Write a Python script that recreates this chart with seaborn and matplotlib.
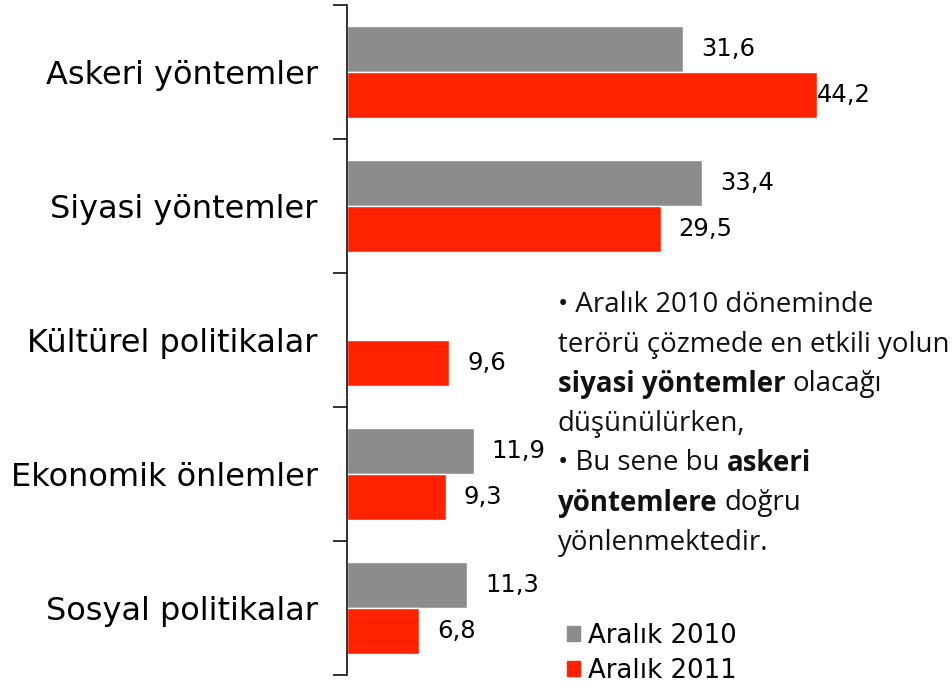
import os
import pandas as pd
import matplotlib
import matplotlib.pyplot as plt
import seaborn as sns
from matplotlib.patches import Patch
from matplotlib.font_manager import FontProperties

categories = ["Askeri yöntemler", "Siyasi yöntemler", "Kültürel politikalar",
              "Ekonomik önlemler", "Sosyal politikalar"]
aralik_2010 = [31.6, 33.4, None, 11.9, 11.3]
aralik_2011 = [44.2, 29.5, 9.6, 9.3, 6.8]
series_names = ["Aralık 2010", "Aralık 2011"]
colors = ["#8c8c8c", "#ff2200"]

note_lines = [
    [("• Aralık 2010 döneminde", False)],
    [("terörü çözmede en etkili yolun", False)],
    [("siyasi yöntemler", True), ("olacağı", False)],
    [("düşünülürken,", False)],
    [("• Bu sene bu", False), ("askeri", True)],
    [("yöntemlere", True), ("doğru", False)],
    [("yönlenmektedir.", False)],
]

df = pd.DataFrame({
    "kategori": categories * 2,
    "donem": [series_names[0]] * 5 + [series_names[1]] * 5,
    "deger": aralik_2010 + aralik_2011,
})

sns.set_style("white")
plt.rcParams["text.color"] = "black"
plt.rcParams["ytick.labelcolor"] = "black"

dejavu = os.path.join(matplotlib.get_data_path(), "fonts", "ttf", "DejaVuSans.ttf")


def main_font(size):
    if os.path.exists(dejavu):
        return FontProperties(fname=dejavu, size=size)
    return FontProperties(family="DejaVu Sans", size=size)


fig = plt.figure(figsize=(9.53, 6.88), dpi=100)
ax = fig.add_axes([347 / 953, 1 - 675 / 688, 1 - 347 / 953, 670 / 688])

sns.barplot(data=df, y="kategori", x="deger", hue="donem", order=categories,
            hue_order=series_names, palette=colors, width=0.69, orient="h",
            saturation=1, ax=ax, legend=False)

ax.set_xlim(0, 57)
ax.set_ylim(4.5, -0.5)
ax.set_xlabel("")
ax.set_ylabel("")
ax.set_xticks([])
for side in ["top", "right", "bottom"]:
    ax.spines[side].set_visible(False)
ax.spines["left"].set_color("#222222")
ax.spines["left"].set_linewidth(1.3)

ax.set_yticks(range(len(categories)))
ax.set_yticklabels(categories, fontproperties=main_font(23))
ax.tick_params(axis="y", which="major", left=True, length=0, pad=21)
ax.set_yticks([i - 0.5 for i in range(len(categories) + 1)], minor=True)
ax.tick_params(axis="y", which="minor", left=True, length=10, width=1.3,
               color="#222222")

for cont in ax.containers:
    for bar, v in zip(cont, cont.datavalues):
        if pd.isna(v):
            continue
        p = 0 if v > 40 else 18
        ax.annotate(f"{v:.1f}".replace(".", ","),
                    (bar.get_width(), bar.get_y() + bar.get_height() / 2),
                    xytext=(p, 0), textcoords="offset pixels",
                    fontproperties=main_font(17.5), va="center", ha="left")

# note text with bold runs
fig.canvas.draw()
renderer = fig.canvas.get_renderer()
note_font = "Open Sans"
note_size = 19.9


def text_width(s, bold):
    t = fig.text(0, 0, s, fontsize=note_size, family=note_font,
                 fontweight="bold" if bold else "normal")
    w = t.get_window_extent(renderer).width
    t.remove()
    return w


space_w = text_width("a a", False) - text_width("aa", False)
x0, y0, dy = 558, 688 - 305, 39.6
for i, runs in enumerate(note_lines):
    x = x0
    y = y0 - i * dy
    for s, bold in runs:
        t = fig.text(x / 953, y / 688, s, fontsize=note_size, family=note_font,
                     fontweight="bold" if bold else "normal", va="center",
                     ha="left", color="#111111")
        x += t.get_window_extent(renderer).width + space_w

handles = [Patch(color=c, label=n) for c, n in zip(colors, series_names)]
fig.legend(handles=handles, loc="lower left", bbox_to_anchor=(557 / 953, -6 / 688),
           frameon=False, prop=main_font(18.7),
           handlelength=0.5, handleheight=0.5,
           handletextpad=0.3, labelspacing=0.35, borderaxespad=0)

fig.savefig("out.png", dpi=100)
